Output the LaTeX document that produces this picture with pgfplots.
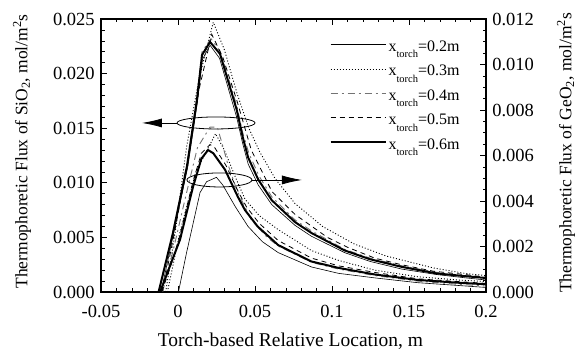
\documentclass[border=0pt]{standalone}
\usepackage{fontspec}
\setmainfont{Liberation Serif}
\usepackage{pgfplots}
\pgfplotsset{compat=1.18}
\usetikzlibrary{arrows.meta}

\pgfplotstableread{
x y
-0.0126 0
-0.0033 0.0054
0.0058 0.0115
0.0123 0.0176
0.0156 0.0217
0.0208 0.0229
0.0273 0.0218
0.0381 0.0167
0.0420 0.0142
0.0456 0.0123
0.0521 0.0103
0.0609 0.0084
0.0760 0.0064
0.0867 0.0054
0.1083 0.0038
0.1247 0.0030
0.1453 0.0023
0.1679 0.0017
0.1864 0.00145
0.2000 0.00128
}\siBold

\pgfplotstableread{
x y
-0.0110 0
-0.0028 0.0054
0.0064 0.0115
0.0126 0.0174
0.0159 0.0213
0.0208 0.0226
0.0270 0.0214
0.0381 0.0160
0.0420 0.0136
0.0456 0.0117
0.0521 0.0098
0.0609 0.0080
0.0760 0.0061
0.0867 0.0051
0.1083 0.0036
0.1247 0.0028
0.1453 0.0021
0.1679 0.0016
0.1864 0.0013
0.2000 0.0011
}\siThin

\pgfplotstableread{
x y
-0.0121 0
-0.0033 0.0055
0.0059 0.0117
0.0123 0.0178
0.0156 0.0220
0.0214 0.0232
0.0275 0.0220
0.0383 0.0170
0.0420 0.0146
0.0460 0.0127
0.0527 0.0106
0.0610 0.0087
0.0760 0.0066
0.0867 0.0056
0.1083 0.0039
0.1247 0.0031
0.1453 0.0024
0.1679 0.0018
0.1864 0.0015
0.2000 0.00132
}\siDashDot

\pgfplotstableread{
x y
-0.0100 0
-0.0018 0.0058
0.0064 0.0120
0.0136 0.0185
0.0219 0.0236
0.0291 0.0215
0.0383 0.0175
0.0476 0.0130
0.0610 0.0092
0.0760 0.0071
0.0970 0.0050
0.1100 0.0041
0.1278 0.0031
0.1450 0.0025
0.1659 0.0019
0.1864 0.0016
0.2000 0.00135
}\siDash

\pgfplotstableread{
x y
-0.0080 0
-0.0018 0.0055
0.0056 0.0133
0.0136 0.0195
0.0229 0.0247
0.0301 0.0222
0.0383 0.0182
0.0460 0.0150
0.0532 0.0128
0.0630 0.0104
0.0760 0.0081
0.0939 0.0060
0.1144 0.0044
0.1350 0.0033
0.1659 0.0022
0.1864 0.0017
0.2000 0.0015
}\siDot

\pgfplotstableread{
x y
-0.0116 0
-0.0049 0.00120
0.0013 0.00230
0.0097 0.00461
0.0152 0.00586
0.0195 0.00624
0.0229 0.00610
0.0305 0.00538
0.0389 0.00418
0.0435 0.00360
0.0517 0.00288
0.0651 0.00206
0.0867 0.00134
0.1042 0.00106
0.1278 0.00077
0.1556 0.00053
0.1813 0.00041
0.2000 0.00034
}\geBold

\pgfplotstableread{
x y
0.0003 0
0.0054 0.00168
0.0143 0.00437
0.0186 0.00485
0.0250 0.00504
0.0291 0.00470
0.0373 0.00374
0.0455 0.00288
0.0548 0.00221
0.0651 0.00173
0.0867 0.00110
0.1042 0.00082
0.1278 0.00062
0.1556 0.00041
0.1813 0.00029
0.2000 0.00020
}\geThin

\pgfplotstableread{
x y
-0.0069 0
0.0013 0.00264
0.0116 0.00528
0.0244 0.00696
0.0301 0.00624
0.0373 0.00504
0.0435 0.00408
0.0527 0.00336
0.0651 0.00274
0.0867 0.00182
0.1042 0.00139
0.1278 0.00096
0.1556 0.00067
0.1813 0.00053
0.2000 0.00046
}\geDot

\pgfplotstableread{
x y
-0.0100 0
-0.0028 0.00192
0.0054 0.00432
0.0126 0.00634
0.0208 0.00725
0.0255 0.00725
0.0286 0.00653
0.0322 0.00566
0.0383 0.00446
0.0476 0.00317
0.0579 0.00240
0.0651 0.00202
0.0867 0.00130
0.1042 0.00101
0.1278 0.00072
0.1556 0.00048
0.1813 0.00034
0.2000 0.00026
}\geDashDot

\pgfplotstableread{
x y
-0.0105 0
-0.0038 0.00134
0.0013 0.00250
0.0095 0.00480
0.0152 0.00610
0.0208 0.00648
0.0239 0.00634
0.0311 0.00557
0.0394 0.00437
0.0445 0.00374
0.0527 0.00302
0.0651 0.00226
0.0867 0.00149
0.1042 0.00115
0.1278 0.00086
0.1556 0.00058
0.1813 0.00046
0.2000 0.00038
}\geDash

\newcommand{\xt}[1]{x\raisebox{-6.5pt}{\fontsize{10.5}{12}\selectfont torch}=#1}

\begin{document}
\fontsize{18.5}{22}\selectfont
\begin{tikzpicture}
\useasboundingbox (0,0) rectangle (580pt,358pt);
\pgfplotsset{
  common/.style={
    at={(101pt,66pt)}, anchor=south west, scale only axis,
    width=385pt, height=273pt,
    xmin=-0.05, xmax=0.2,
    tick align=inside,
    /pgf/number format/assume math mode=true,
    scaled ticks=false,
    major tick length=6pt, minor tick length=3.5pt,
    every tick/.style={black, line width=0.6pt},
    axis line style={-, line width=1.4pt},
  },
  thinS/.style={black, line width=0.6pt},
  dotS/.style={black, line width=0.9pt, dash pattern=on 1pt off 2pt},
  dashdotS/.style={black!55, line width=0.9pt, dash pattern=on 7pt off 4pt on 2pt off 4pt},
  dashS/.style={black, line width=0.8pt, dash pattern=on 5pt off 4pt},
  boldS/.style={black, line width=2pt},
}
\begin{axis}[common,
  ymin=0, ymax=0.025,
  xtick={-0.05,0,0.05,0.1,0.15,0.2},
  xticklabels={-0.05,0,0.05,0.1,0.15,0.2},
  xticklabel style={yshift=-7pt},
  minor x tick num=4,
  ytick={0,0.005,0.01,0.015,0.02,0.025},
  yticklabel style={/pgf/number format/.cd, fixed, fixed zerofill, precision=3},
  minor y tick num=4,
  xtick pos=both, ytick pos=left,
  xlabel={Torch-based Relative Location, m},
  xlabel style={at={(axis description cs:0.492,-0.18)}, anchor=center, font=\fontsize{19.5}{23}\selectfont},
  ylabel={Thermophoretic Flux of SiO\textsubscript{2}, mol/m\textsuperscript{2}s},
  ylabel style={at={(axis description cs:-0.205,0.515)}, anchor=center, font=\fontsize{17.5}{21}\selectfont},
  legend style={draw=none, fill=none, at={(axis description cs:0.593,0.928)}, anchor=north west,
    font=\fontsize{16}{19}\selectfont, row sep=7pt, inner sep=0pt},
  legend cell align=left,
  legend image code/.code={\draw[#1] (0pt,3pt) -- (55pt,3pt);},
]
\addplot[thinS] table {\siThin};
\addlegendentry{\xt{0.2m}}
\addplot[dotS] table {\siDot};
\addlegendentry{\xt{0.3m}}
\addplot[dashdotS] table {\siDashDot};
\addlegendentry{\xt{0.4m}}
\addplot[dashS] table {\siDash};
\addlegendentry{\xt{0.5m}}
\addplot[boldS] table {\siBold};
\addlegendentry{\xt{0.6m}}

\draw[line width=0.8pt] (axis cs:0.0247,0.01548) ellipse [x radius=39pt, y radius=6pt];
\draw[line width=0.8pt, -{Latex[length=20pt,width=9pt]}] (axis cs:-0.00065,0.01548) -- (axis cs:-0.0234,0.01548);
\draw[line width=0.8pt] (axis cs:0.0269,0.01026) ellipse [x radius=32.5pt, y radius=7pt];
\draw[line width=0.8pt, -{Latex[length=20pt,width=9pt]}] (axis cs:0.0481,0.01026) -- (axis cs:0.0805,0.01026);
\end{axis}

\begin{axis}[common,
  ymin=0, ymax=0.012,
  axis y line*=right, axis x line=none,
  ytick={0,0.002,0.004,0.006,0.008,0.01,0.012},
  yticklabel style={/pgf/number format/.cd, fixed, fixed zerofill, precision=3},
  minor y tick num=3,
  ylabel={Thermophoretic Flux of GeO\textsubscript{2}, mol/m\textsuperscript{2}s},
  ylabel style={at={(axis description cs:1.208,0.51)}, anchor=center, rotate=0, font=\fontsize{17.5}{21}\selectfont},
]
\addplot[thinS] table {\geThin};
\addplot[dotS] table {\geDot};
\addplot[dashdotS] table {\geDashDot};
\addplot[dashS] table {\geDash};
\addplot[boldS] table {\geBold};
\end{axis}
\end{tikzpicture}
\end{document}
